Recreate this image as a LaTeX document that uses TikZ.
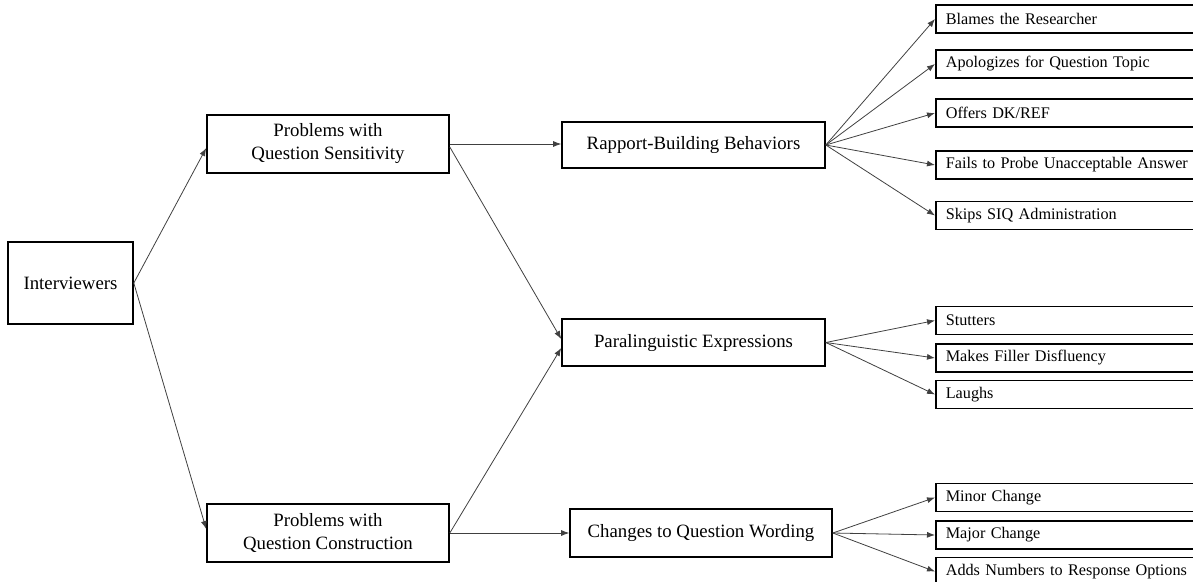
\documentclass[tikz,border=0pt]{standalone}
\usepackage{fontspec}
\setmainfont{Liberation Serif}
\usetikzlibrary{arrows.meta}
\tikzset{
  mainbox/.style={draw, line width=1.6pt, inner sep=0pt, align=center,
    font=\fontsize{18.8}{23}\selectfont},
  leafbox/.style={draw, line width=1.6pt, inner ysep=0pt, inner xsep=10pt,
    text width=280pt, minimum height=28pt, align=left, anchor=west,
    font=\fontsize{16.2}{20}\selectfont},
  conn/.style={draw=black!75, line width=0.8pt, -{Latex[length=8pt,width=6pt]}}
}
\begin{document}
\begin{tikzpicture}[x=1pt,y=-1pt]
\useasboundingbox (0,0) rectangle (1193,581);
\clip (0,0) rectangle (1193,581);
% main boxes
\node[mainbox, minimum width=125pt, minimum height=82pt] (int) at (70.5,283) {Interviewers};
\node[mainbox, minimum width=242pt, minimum height=58pt] (pqs) at (328,144) {Problems with\\Question Sensitivity};
\node[mainbox, minimum width=242pt, minimum height=58pt] (pqc) at (328,533) {Problems with\\Question Construction};
\node[mainbox, minimum width=263pt, minimum height=46pt] (rbb) at (693.5,145) {Rapport-Building Behaviors};
\node[mainbox, minimum width=263pt, minimum height=47pt] (pe) at (693.5,342.5) {Paralinguistic Expressions};
\node[mainbox, minimum width=262pt, minimum height=48pt] (cqw) at (701,533) {Changes to Question Wording};
% leaf boxes
\node[leafbox] (l1) at (935,19) {Blames the Researcher};
\node[leafbox] (l2) at (935,64) {Apologizes for Question Topic};
\node[leafbox] (l3) at (935,113) {Offers DK/REF};
\node[leafbox] (l4) at (935,165) {Fails to Probe Unacceptable Answer};
\node[leafbox] (l5) at (935,215.5) {Skips SIQ Administration};
\node[leafbox] (m1) at (935,320.5) {Stutters};
\node[leafbox] (m2) at (935,358) {Makes Filler Disfluency};
\node[leafbox] (m3) at (935,394.5) {Laughs};
\node[leafbox] (n1) at (935,497.5) {Minor Change};
\node[leafbox] (n2) at (935,535) {Major Change};
\node[leafbox] (n3) at (935,571.5) {Adds Numbers to Response Options};
% connectors
\draw[conn] (int.east) -- ([yshift=-4pt]pqs.west);
\draw[conn] (int.east) -- ([yshift=4pt]pqc.west);
\draw[conn] (pqs.east) -- (pqs.east -| rbb.west);
\draw[conn] ([yshift=-3pt]pqs.east) -- ([yshift=3.5pt]pe.west);
\draw[conn] (pqc.east) -- (pqc.east -| cqw.west);
\draw[conn] (pqc.east) -- ([yshift=-5.5pt]pe.west);
\foreach \t in {l1,l2,l3,l4,l5} \draw[conn] (rbb.east) -- (\t.west);
\foreach \t in {m1,m2,m3} \draw[conn] (pe.east) -- (\t.west);
\foreach \t in {n1,n2,n3} \draw[conn] (cqw.east) -- (\t.west);
\end{tikzpicture}
\end{document}
